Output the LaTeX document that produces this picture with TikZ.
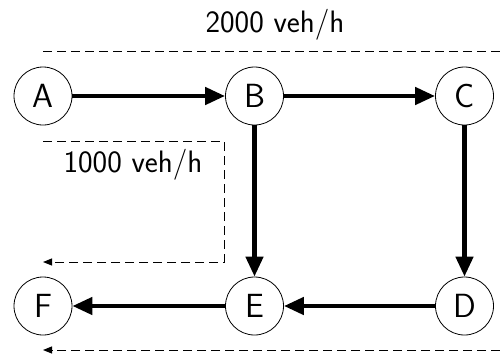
\documentclass[tikz,border=0pt]{standalone}
\usetikzlibrary{arrows.meta}
\begin{document}
\begin{tikzpicture}[x=1pt,y=-1pt,
  city/.style={circle, draw, line width=0.8pt, minimum size=58pt, inner sep=0pt, font=\sffamily\fontsize{33.5}{33.5}\selectfont},
  road/.style={line width=4.5pt, -{Triangle[length=20pt,width=17pt]}},
  flowline/.style={line width=1pt, dash pattern=on 9pt off 5pt},
  flowarrow/.style={flowline, -{Triangle[length=9pt,width=7pt]}},
  lab/.style={font=\sffamily\fontsize{31}{31}\selectfont}]
\useasboundingbox (0,0) rectangle (500,354);
\node[city] (A) at (43,96) {A};
\node[city] (B) at (254.5,96) {B};
\node[city] (C) at (464.5,96) {C};
\node[city] (F) at (43,306) {F};
\node[city] (E) at (254.5,306) {E};
\node[city] (D) at (464.5,306) {D};
\draw[road] (A) -- (B);
\draw[road] (B) -- (C);
\draw[road] (B) -- (E);
\draw[road] (C) -- (D);
\draw[road] (D) -- (E);
\draw[road] (E) -- (F);
\coordinate (t1) at (43,51);
\coordinate (t2) at (500,51);
\draw[flowline] (t1) -- (t2);
\node[lab] (l1) at (275,25) {2000 veh/h};
\coordinate (m1) at (43,141);
\coordinate (m2) at (224,141);
\coordinate (m3) at (224,262);
\coordinate (m4) at (43,262);
\draw[flowarrow] (m1) -- (m2) -- (m3) -- (m4);
\node[lab] (l2) at (133,165) {1000 veh/h};
\coordinate (b1) at (500,350);
\coordinate (b2) at (43,350);
\draw[flowarrow] (b1) -- (b2);
\end{tikzpicture}
\end{document}
